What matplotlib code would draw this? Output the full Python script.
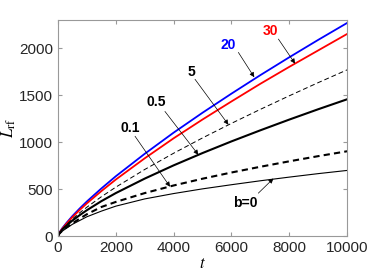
import numpy as np
import matplotlib.pyplot as plt

plt.rcParams['font.family'] = ['Liberation Sans', 'DejaVu Sans']
plt.rcParams['mathtext.fontset'] = 'stix'

# time samples
t = [0, 50, 150, 300, 500, 750, 1000, 1500, 2000, 3000, 4000, 5000, 6000,
     7000, 8000, 9000, 10000]

# L_rf for each b
L_b20 = [0, 38, 84, 142, 213, 293, 368, 506, 636, 875, 1100, 1312, 1515,
         1712, 1902, 2087, 2267]
L_b30 = [0, 35, 78, 134, 201, 277, 348, 478, 601, 827, 1040, 1240, 1432,
         1620, 1800, 1975, 2150]
L_b5 = [0, 32, 73, 123, 181, 247, 307, 418, 520, 708, 881, 1044, 1199,
        1348, 1492, 1632, 1768]
L_b05 = [0, 30, 68, 113, 165, 222, 275, 371, 457, 611, 752, 883, 1007,
         1125, 1239, 1349, 1455]
L_b01 = [0, 26, 57, 92, 135, 185, 232, 309, 363, 457, 538, 610, 676,
         737, 795, 850, 902]
L_b0 = [0, 24, 52, 85, 125, 165, 205, 265, 318, 395, 452, 502, 546,
        588, 627, 664, 698]

# labels: text, text pos, arrow tail, arrow head, colour
labels = ['20', '30', '5', '0.5', '0.1', 'b=0']
label_xy = [(5900, 2035), (7340, 2180), (4625, 1750), (3415, 1430),
            (2490, 1150), (6470, 350)]
tail_xy = [(6240, 1954), (7625, 2096), (4740, 1668), (3700, 1326),
           (2665, 1062), (6930, 456)]
head_xy = [(6790, 1690), (8200, 1835), (5895, 1185), (4855, 865),
           (3875, 525), (7450, 612)]
label_col = ['blue', 'red', 'k', 'k', 'k', 'k']

fig = plt.figure(figsize=(3.74, 2.8), dpi=100)
ax = fig.add_axes([0.155, 0.157, 0.773, 0.772])

ax.plot(t, L_b20, color='blue', lw=1.3)
ax.plot(t, L_b30, color='red', lw=1.3)
ax.plot(t, L_b5, color='k', lw=0.7, ls=(0, (5, 3)))
ax.plot(t, L_b05, color='k', lw=1.5)
ax.plot(t, L_b01, color='k', lw=1.5, ls=(0, (3, 2)))
ax.plot(t, L_b0, color='k', lw=0.8)

for s, p, a, h, c in zip(labels, label_xy, tail_xy, head_xy, label_col):
    ax.text(p[0], p[1], s, color=c, fontsize=10, fontweight='bold',
            ha='center', va='center')
    ax.annotate('', xy=h, xytext=a,
                arrowprops=dict(arrowstyle='-|>', color='k', lw=0.5,
                                mutation_scale=7, shrinkA=0, shrinkB=0))

ax.set_xlim(0, 10000)
ax.set_ylim(0, 2300)
ax.set_xticks(np.arange(0, 10001, 2000))
ax.set_yticks(np.arange(0, 2001, 500))
ax.tick_params(direction='in', top=True, right=True, length=3,
               color='#999999', labelcolor='#262626', labelsize=11)
for sp in ax.spines.values():
    sp.set_color('#999999')
    sp.set_linewidth(0.8)

ax.set_xlabel(r'$t$', fontsize=12, labelpad=1)
ax.set_ylabel(r'$L_{\rm rf}$', fontsize=12, labelpad=1)

fig.savefig('out.png', dpi=100)
